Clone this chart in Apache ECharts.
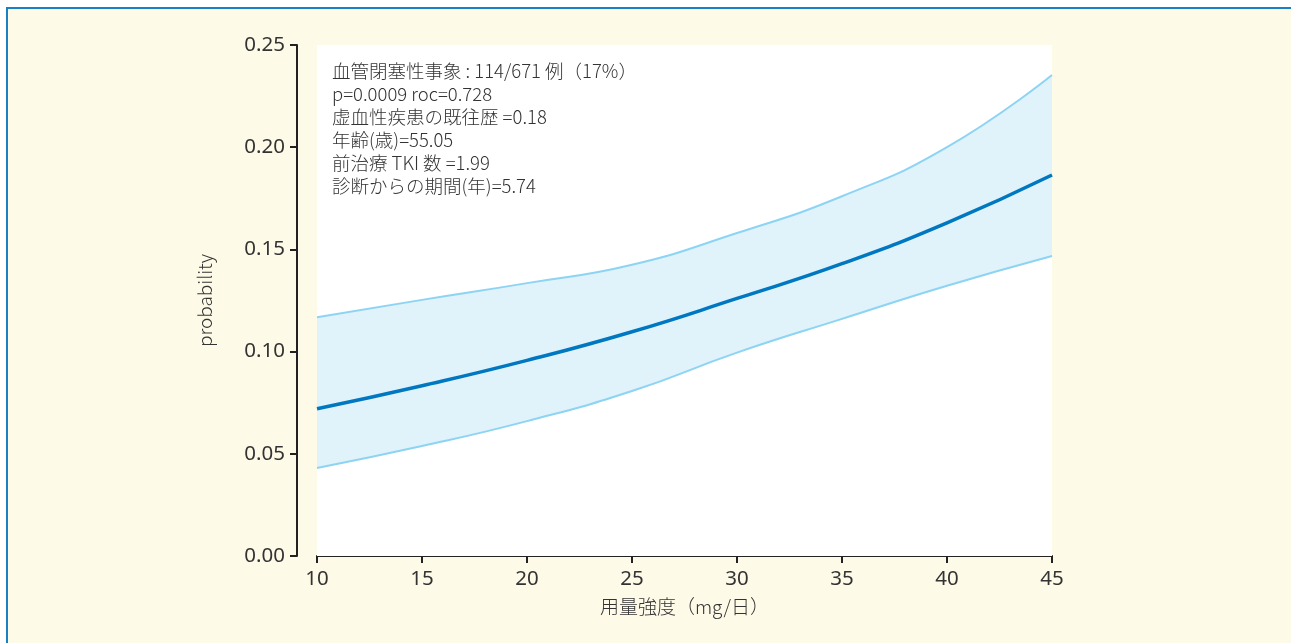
<!DOCTYPE html>
<html><head><meta charset="utf-8">
<script src="https://cdn.jsdelivr.net/npm/echarts@6/dist/echarts.min.js"></script>
<style>
html,body{margin:0;padding:0;background:#fff;width:1291px;height:643px;overflow:hidden;}
#frame{position:absolute;left:6px;top:7px;width:2000px;height:1000px;border-top:2px solid #1a80c4;border-left:2px solid #1a80c4;background:#fefae8;}
#chart{position:absolute;left:0;top:0;width:1291px;height:643px;}
</style></head>
<body>
<div id="frame"></div>
<div id="chart"></div>
<script>
const xValues = [10, 15, 20, 25, 30, 35, 40, 45];
const meanProb = [0.072, 0.0833, 0.0957, 0.1097, 0.126, 0.143, 0.163, 0.1864];
const upperProb = [0.1168, 0.1253, 0.1335, 0.1425, 0.158, 0.176, 0.200, 0.2353];
const lowerProb = [0.0431, 0.0538, 0.066, 0.0807, 0.0995, 0.116, 0.1322, 0.1468];
const yTicks = [0, 0.05, 0.10, 0.15, 0.20, 0.25];
const annotationLines = [
  '血管閉塞性事象 : 114/671 例（17%）',
  'p=0.0009 roc=0.728',
  '虚血性疾患の既往歴 =0.18',
  '年齢(歳)=55.05',
  '前治療 TKI 数 =1.99',
  '診断からの期間(年)=5.74'
];
const xName = '用量強度（mg/日）';
const yName = 'probability';

const FONT = '"Noto Sans CJK JP", "Noto Sans", sans-serif';
const NUMFONT = '"Noto Sans", "Noto Sans CJK JP", sans-serif';
const W = 300;
const pair = arr => xValues.map((x, i) => [x, arr[i]]);

const chart = echarts.init(document.getElementById('chart'), null, {renderer: 'canvas'});
chart.setOption({
  backgroundColor: 'transparent',
  animation: false,
  textStyle: {fontFamily: FONT},
  title: {
    text: annotationLines.join('\n'),
    left: 327, top: 54,
    textStyle: {fontFamily: FONT, fontSize: 18.5, fontWeight: W, color: '#333', lineHeight: 23}
  },
  grid: {left: 317, right: 239, top: 45, bottom: 87, show: true, backgroundColor: '#ffffff', borderWidth: 0},
  xAxis: {
    type: 'value', min: 10, max: 45, interval: 5,
    name: xName, nameLocation: 'middle', nameGap: 41,
    nameTextStyle: {fontFamily: FONT, fontSize: 19, fontWeight: W, color: '#333'},
    axisLine: {lineStyle: {color: '#222', width: 2}},
    axisTick: {length: 7, lineStyle: {color: '#222', width: 2}},
    axisLabel: {fontFamily: NUMFONT, fontSize: 20.5, fontWeight: 400, color: '#333', margin: 13},
    splitLine: {show: false}
  },
  yAxis: {
    type: 'value', min: 0, max: 0.25, interval: 0.05, offset: 20,
    name: yName, nameLocation: 'middle', nameGap: 83, nameRotate: 90,
    nameTextStyle: {fontFamily: FONT, fontSize: 19, fontWeight: W, color: '#333'},
    axisLine: {show: true, lineStyle: {color: '#222', width: 2}},
    axisTick: {show: true, length: 7, lineStyle: {color: '#222', width: 2}},
    axisLabel: {fontFamily: NUMFONT, fontSize: 20.5, fontWeight: 400, color: '#333', margin: 12,
      formatter: v => { const t = yTicks.find(k => Math.abs(k - v) < 1e-9); return (t !== undefined ? t : v).toFixed(2); }},
    splitLine: {show: false}
  },
  series: [
    {type: 'line', data: pair(upperProb), smooth: true, symbol: 'none',
     lineStyle: {opacity: 0}, areaStyle: {color: '#e0f2fa', opacity: 1, origin: 'start'}, z: 1, silent: true},
    {type: 'line', data: pair(lowerProb), smooth: true, symbol: 'none',
     lineStyle: {opacity: 0}, areaStyle: {color: '#ffffff', opacity: 1, origin: 'start'}, z: 1, silent: true},
    {type: 'line', data: pair(upperProb), smooth: true, symbol: 'none',
     lineStyle: {color: '#8dd4f4', width: 2}, z: 2},
    {type: 'line', data: pair(lowerProb), smooth: true, symbol: 'none',
     lineStyle: {color: '#8dd4f4', width: 2}, z: 2},
    {type: 'line', data: pair(meanProb), smooth: true, symbol: 'none',
     lineStyle: {color: '#0077c1', width: 3.5}, z: 3}
  ]
});
</script>
</body></html>
